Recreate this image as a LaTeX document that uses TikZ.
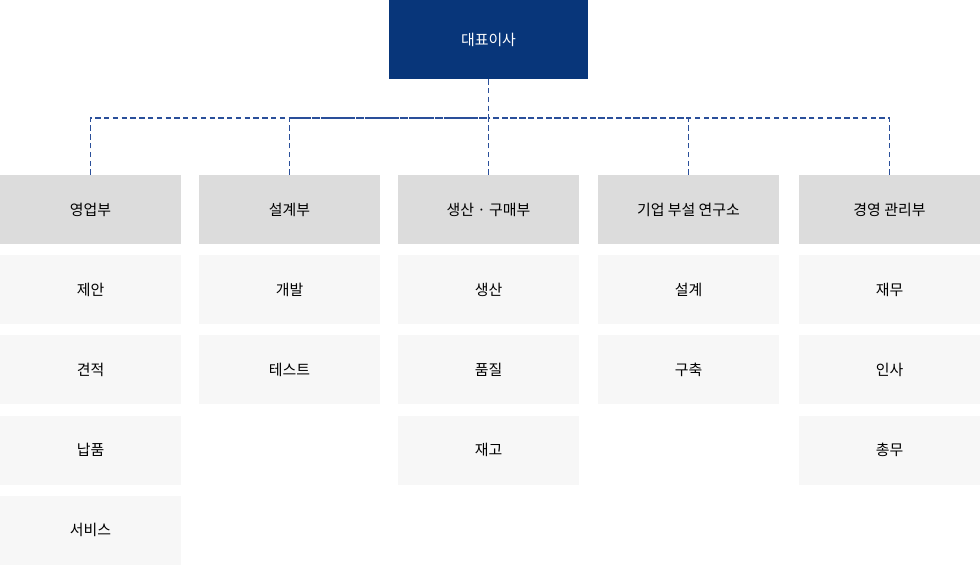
\documentclass[tikz,border=0pt]{standalone}
\usepackage{fontspec}
\setmainfont{Noto Sans CJK KR}
\definecolor{ceoblue}{HTML}{08367A}
\definecolor{headgray}{HTML}{DCDCDC}
\definecolor{itemgray}{HTML}{F7F7F7}
\definecolor{linkblue}{HTML}{2A4F9A}
\begin{document}
\begin{tikzpicture}[x=0.02cm,y=-0.02cm]
		\tikzstyle{Ceo} = [rectangle, minimum width=3.98cm, minimum height=1.58cm, text centered, fill=ceoblue, text=white, font=\fontsize{8.5}{10}\selectfont, inner sep=0pt]
		\tikzstyle{Dept} = [rectangle, minimum width=3.62cm, minimum height=1.38cm, text centered, fill=headgray, font=\fontsize{8.5}{10}\selectfont, inner sep=0pt]
		\tikzstyle{Team} = [rectangle, minimum width=3.62cm, minimum height=1.38cm, text centered, fill=itemgray, font=\fontsize{8.5}{10}\selectfont, inner sep=0pt]
		\tikzstyle{link} = [densely dashed, linkblue, line width=0.6pt]

		\useasboundingbox (0,0) rectangle (980,566);

		\node (ceo) [Ceo] at (488.5,39.5) {대표이사};

		% departments
		\node (sales) [Dept] at (90.5,209.5) {영업부};
		\node (design) [Dept] at (289.5,209.5) {설계부};
		\node (prod) [Dept] at (488.5,209.5) {생산 · 구매부};
		\node (lab) [Dept] at (688.5,209.5) {기업 부설 연구소};
		\node (admin) [Dept] at (889.5,209.5) {경영 관리부};

		% teams
		\node (sales1) [Team] at (90.5,289.5) {제안};
		\node (sales2) [Team] at (90.5,369.5) {견적};
		\node (sales3) [Team] at (90.5,450) {납품};
		\node (sales4) [Team] at (90.5,530) {서비스};
		\node (design1) [Team] at (289.5,289.5) {개발};
		\node (design2) [Team] at (289.5,369.5) {테스트};
		\node (prod1) [Team] at (488.5,289.5) {생산};
		\node (prod2) [Team] at (488.5,369.5) {품질};
		\node (prod3) [Team] at (488.5,450) {재고};
		\node (lab1) [Team] at (688.5,289.5) {설계};
		\node (lab2) [Team] at (688.5,369.5) {구축};
		\node (admin1) [Team] at (889.5,289.5) {재무};
		\node (admin2) [Team] at (889.5,369.5) {인사};
		\node (admin3) [Team] at (889.5,450) {총무};

		\coordinate (bus) at (488.5,118);
		\draw [link] (ceo.south) -- (bus);
		\foreach \d in {sales, design, prod, lab, admin}
			\draw [link] (\d.north) |- (bus);
\end{tikzpicture}
\end{document}
